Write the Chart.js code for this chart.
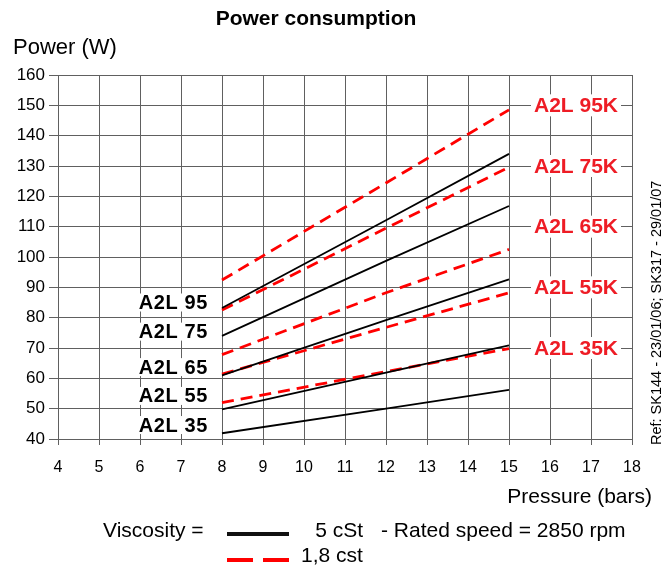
<!DOCTYPE html>
<html>
<head>
<meta charset="utf-8">
<script src="https://cdn.jsdelivr.net/npm/chart.js@4"></script>
<style>
  body { margin: 0; background: #fff; }
  canvas { display: block; }
</style>
</head>
<body>
<canvas id="chart-power" width="671" height="567"></canvas>
<script>
// Pressure (bars) where each curve is read
const pressure = [8, 12, 15];

// 5 cSt (solid black)
const a2l95 = [83.2, 112.1, 134.0];
const a2l75 = [74.0, 98.7, 116.8];
const a2l65 = [61.0, 79.2, 92.6];
const a2l55 = [49.8, 61.9, 70.9];
const a2l35 = [41.9, 50.0, 56.2];

// 1,8 cst (dashed red)
const a2l95k = [92.4, 124.4, 148.5];
const a2l75k = [82.5, 109.5, 129.6];
const a2l65k = [67.8, 88.2, 102.5];
const a2l55k = [61.4, 76.8, 88.2];
const a2l35k = [52.0, 62.2, 69.8];

const xTicks = [4, 5, 6, 7, 8, 9, 10, 11, 12, 13, 14, 15, 16, 17, 18];
const yTicks = [40, 50, 60, 70, 80, 90, 100, 110, 120, 130, 140, 150, 160];

// labels next to the curves: [text, y value]
const leftLabels = [['A2L 95', 85.0], ['A2L 75', 75.4], ['A2L 65', 63.7], ['A2L 55', 54.2], ['A2L 35', 44.6]];
const rightLabels = [['A2L 95K', 150], ['A2L 75K', 130], ['A2L 65K', 110], ['A2L 55K', 90], ['A2L 35K', 70]];

const RED = '#ff0000';
const GRID = '#606060';
const FONT = '"Liberation Sans", Arial, sans-serif';

function series(values, isRed) {
    return {
        data: pressure.map((p, i) => ({ x: p, y: values[i] })),
        borderColor: isRed ? RED : '#000',
        borderWidth: isRed ? 2.8 : 1.8,
        borderDash: isRed ? [12, 7] : [],
        pointRadius: 0,
        fill: false,
        tension: 0
    };
}

const textPlugin = {
    id: 'texts',
    afterDatasetsDraw(chart) {
        const ctx = chart.ctx;
        const y = chart.scales.y;
        ctx.save();

        // left black labels
        ctx.font = 'bold 20px ' + FONT;
        ctx.textAlign = 'right';
        ctx.textBaseline = 'middle';
        ctx.letterSpacing = '0.6px';
        leftLabels.forEach(([t, v]) => {
            const py = y.getPixelForValue(v);
            const w = ctx.measureText(t).width;
            ctx.fillStyle = '#fff';
            ctx.fillRect(208 - w - 2, py - 9, w + 4, 18);
            ctx.fillStyle = '#000';
            ctx.fillText(t, 208, py + 1);
        });
        ctx.letterSpacing = '0px';

        // right red labels
        ctx.font = 'bold 21px ' + FONT;
        ctx.textAlign = 'center';
        rightLabels.forEach(([t, v]) => {
            const py = y.getPixelForValue(v);
            const w = ctx.measureText(t).width;
            ctx.fillStyle = '#fff';
            ctx.fillRect(576 - w / 2 - 3, py - 11, w + 6, 22);
            ctx.fillStyle = '#ee1c25';
            ctx.fillText(t, 576, py + 1);
        });

        // title and axis titles
        ctx.fillStyle = '#000';
        ctx.font = 'bold 21px ' + FONT;
        ctx.textAlign = 'center';
        ctx.fillText('Power consumption', 316, 19);
        ctx.font = '22px ' + FONT;
        ctx.textAlign = 'left';
        ctx.fillText('Power (W)', 13, 48);
        ctx.font = '21px ' + FONT;
        ctx.textAlign = 'right';
        ctx.fillText('Pressure (bars)', 652, 497);

        // rotated reference
        ctx.save();
        ctx.translate(661, 445);
        ctx.rotate(-Math.PI / 2);
        ctx.font = '14.5px ' + FONT;
        ctx.textAlign = 'left';
        ctx.textBaseline = 'alphabetic';
        ctx.fillText('Ref: SK144 - 23/01/06; SK317 - 29/01/07', 0, 0);
        ctx.restore();

        // legend
        ctx.font = '21px ' + FONT;
        ctx.textAlign = 'left';
        ctx.fillText('Viscosity =', 103, 531);
        ctx.textAlign = 'right';
        ctx.fillText('5 cSt', 363, 531);
        ctx.textAlign = 'left';
        ctx.fillText('- Rated speed = 2850 rpm', 381, 531);
        ctx.fillText('1,8 cst', 301, 556);
        ctx.lineWidth = 4;
        ctx.strokeStyle = '#111';
        ctx.beginPath();
        ctx.moveTo(227, 534);
        ctx.lineTo(289, 534);
        ctx.stroke();
        ctx.strokeStyle = RED;
        ctx.setLineDash([26, 10]);
        ctx.beginPath();
        ctx.moveTo(227, 560);
        ctx.lineTo(289, 560);
        ctx.stroke();
        ctx.restore();
    }
};

new Chart(document.getElementById('chart-power').getContext('2d'), {
    type: 'line',
    data: {
        datasets: [
            series(a2l95, false), series(a2l75, false), series(a2l65, false),
            series(a2l55, false), series(a2l35, false),
            series(a2l95k, true), series(a2l75k, true), series(a2l65k, true),
            series(a2l55k, true), series(a2l35k, true)
        ]
    },
    options: {
        responsive: false,
        animation: false,
        layout: { padding: { left: 0, top: 75, right: 39, bottom: 0 } },
        plugins: { legend: { display: false }, tooltip: { enabled: false } },
        scales: {
            x: {
                type: 'linear',
                min: 4,
                max: 18,
                afterBuildTicks: s => { s.ticks = xTicks.map(v => ({ value: v })); },
                afterFit: s => { s.height = 128; },
                grid: { color: GRID, lineWidth: 1, tickLength: 6, drawTicks: true },
                border: { color: GRID },
                ticks: { color: '#000', font: { family: FONT, size: 16 }, padding: 13, maxRotation: 0 }
            },
            y: {
                min: 40,
                max: 160,
                afterBuildTicks: s => { s.ticks = yTicks.map(v => ({ value: v })); },
                afterFit: s => { s.width = 58; },
                grid: { color: GRID, lineWidth: 1, tickLength: 9 },
                border: { color: GRID },
                ticks: { color: '#000', font: { family: FONT, size: 17 }, padding: 4 }
            }
        }
    },
    plugins: [textPlugin]
});
</script>
</body>
</html>
